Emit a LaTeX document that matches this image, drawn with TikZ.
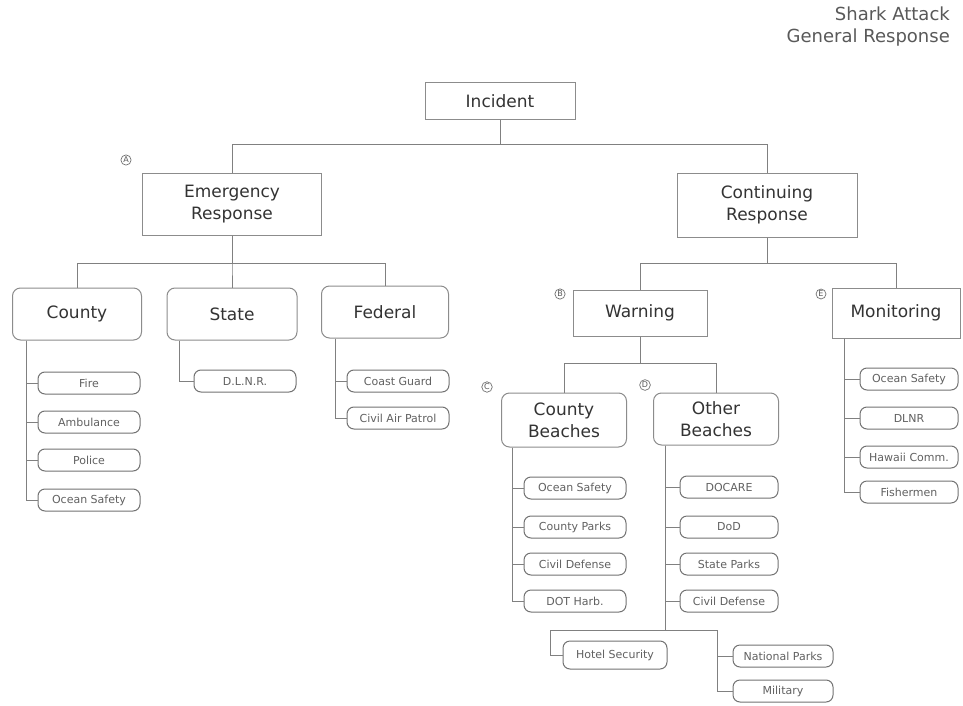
\documentclass[tikz,border=0pt]{standalone}
\usepackage{fontspec}
\setmainfont{DejaVu Sans}
\begin{document}
\begin{tikzpicture}[x=1pt,y=-1pt,
  line/.style={draw=black!50, line width=1pt},
  box/.style={draw=black!45, line width=1pt, fill=white, text=black!80,
    font=\fontsize{17}{22}\selectfont, align=center, inner sep=2pt},
  rbox/.style={box, rounded corners=8pt},
  item/.style={draw=black!55, line width=1pt, fill=white, rounded corners=7pt,
    text=black!62, font=\fontsize{11}{12}\selectfont, minimum width=102pt,
    minimum height=22pt, inner sep=1pt},
  letter/.style={circle, draw=black!55, line width=0.7pt, inner sep=0.8pt,
    text=black!65, font=\fontsize{8}{8}\selectfont}
]
\useasboundingbox (0,0) rectangle (963,706);
\fill[white] (0,0) rectangle (963,706);

% title
\node[anchor=north east, align=right, text=black!65,
  font=\fontsize{18}{22}\selectfont, inner sep=0pt] (title) at (950,7)
  {Shark Attack\\General Response};

% main boxes
\node[box, minimum width=150pt, minimum height=37pt] (inc) at (500,101) {Incident};
\node[box, minimum width=179pt, minimum height=62pt] (emer) at (232,204) {Emergency\\Response};
\node[box, minimum width=180pt, minimum height=64pt] (cont) at (767,205) {Continuing\\Response};

\node[rbox, minimum width=129pt, minimum height=52pt] (county) at (77,314) {County};
\node[rbox, minimum width=130pt, minimum height=52pt] (state) at (232,314) {State};
\node[rbox, minimum width=127pt, minimum height=52pt] (fed) at (385,312) {Federal};

\node[box, minimum width=134pt, minimum height=46pt] (warn) at (640,313) {Warning};
\node[box, minimum width=128pt, minimum height=50pt] (mon) at (896,313) {Monitoring};

\node[rbox, minimum width=125pt, minimum height=54pt] (cb) at (564,420) {County\\Beaches};
\node[rbox, minimum width=125pt, minimum height=52pt] (ob) at (716,419) {Other\\Beaches};

% letter markers
\node[letter] (la) at (126,160) {A};
\node[letter] (lb) at (560,294) {B};
\node[letter] (lc) at (487,387) {C};
\node[letter] (ld) at (645,385) {D};
\node[letter] (le) at (821,294) {E};

% items: County
\node[item] (c1) at (89,383) {Fire};
\node[item] (c2) at (89,422) {Ambulance};
\node[item] (c3) at (89,460) {Police};
\node[item] (c4) at (89,500) {Ocean Safety};
% State
\node[item] (s1) at (245,381) {D.L.N.R.};
% Federal
\node[item] (f1) at (398,381) {Coast Guard};
\node[item] (f2) at (398,418) {Civil Air Patrol};
% County beaches
\node[item] (b1) at (575,488) {Ocean Safety};
\node[item] (b2) at (575,527) {County Parks};
\node[item] (b3) at (575,564) {Civil Defense};
\node[item] (b4) at (575,601) {DOT Harb.};
% Other beaches
\node[item, minimum width=98pt] (o1) at (729,487) {DOCARE};
\node[item, minimum width=98pt] (o2) at (729,527) {DoD};
\node[item, minimum width=98pt] (o3) at (729,564) {State Parks};
\node[item, minimum width=98pt] (o4) at (729,601) {Civil Defense};
% Monitoring
\node[item, minimum width=98pt] (m1) at (909,379) {Ocean Safety};
\node[item, minimum width=98pt] (m2) at (909,418) {DLNR};
\node[item, minimum width=98pt] (m3) at (909,457) {Hawaii Comm.};
\node[item, minimum width=98pt] (m4) at (909,492) {Fishermen};
% bottom
\node[item, minimum width=104pt, minimum height=28pt] (hotel) at (615,655) {Hotel Security};
\node[item, minimum width=100pt] (np) at (783,656) {National Parks};
\node[item, minimum width=100pt] (mil) at (783,691) {Military};

% connectors: top levels
\draw[line] (inc.south) -- ++(0,24) -| (emer.north);
\draw[line] (inc.south) -- ++(0,24) -| (cont.north);
\draw[line] (emer.south) -- ++(0,28) -| (county.north);
\draw[line] (emer.south) -- ++(0,28) -| (state.north);
\draw[line] (emer.south) -- ++(0,28) -| (fed.north);
\draw[line] (cont.south) -- ++(0,26) -| (warn.north);
\draw[line] (cont.south) -- ++(0,26) -| (mon.north);
\draw[line] (warn.south) -- ++(0,27) -| (cb.north);
\draw[line] (warn.south) -- ++(0,27) -| (ob.north);

% connectors: items
\foreach \i in {c1,c2,c3,c4} \draw[line] ([xshift=14pt]county.south west) |- (\i.west);
\draw[line] ([xshift=13pt]state.south west) |- (s1.west);
\foreach \i in {f1,f2} \draw[line] ([xshift=14pt]fed.south west) |- (\i.west);
\foreach \i in {b1,b2,b3,b4} \draw[line] ([xshift=11pt]cb.south west) |- (\i.west);
\foreach \i in {o1,o2,o3,o4} \draw[line] ([xshift=12pt]ob.south west) |- (\i.west);
\foreach \i in {m1,m2,m3,m4} \draw[line] ([xshift=13pt]mon.south west) |- (\i.west);

% bottom branch
\coordinate (j) at (665,630);
\coordinate (jl) at (550,630);
\coordinate (jr) at (717,630);
\draw[line] ([xshift=12pt]ob.south west) -- (j);
\draw[line] (jr) -- (jl) |- (hotel.west);
\draw[line] (jr) |- (np.west);
\draw[line] (jr) |- (mil.west);
\end{tikzpicture}
\end{document}
